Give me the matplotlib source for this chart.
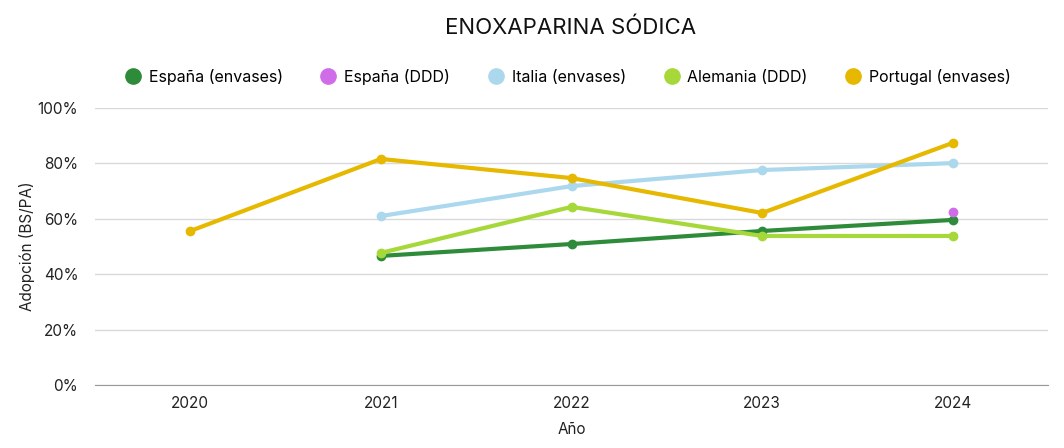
import numpy as np
import matplotlib
matplotlib.use("Agg")
import matplotlib.pyplot as plt
from matplotlib.ticker import FuncFormatter

plt.rcParams['font.family'] = ['Inter', 'DejaVu Sans']

years = ["2020", "2021", "2022", "2023", "2024"]

# adoption values in %, None where there is no data
espana_envases = [None, 46.6, 50.9, 55.6, 59.6]
espana_ddd = [None, None, None, None, 62.5]
italia_envases = [None, 61.0, 71.8, 77.6, 80.1]
alemania_ddd = [None, 47.7, 64.3, 53.8, 53.8]
portugal_envases = [55.6, 81.6, 74.7, 62.1, 87.4]

series = [
    ("España (envases)", espana_envases, "#2e8b3a"),
    ("España (DDD)", espana_ddd, "#d06ce8"),
    ("Italia (envases)", italia_envases, "#acd8ee"),
    ("Alemania (DDD)", alemania_ddd, "#a6d83a"),
    ("Portugal (envases)", portugal_envases, "#e6b800"),
]

fig = plt.figure(figsize=(10.64, 4.48), dpi=100)
ax = fig.add_axes([95 / 1064, 1 - 385 / 448, (1048 - 95) / 1064, (385 - 108) / 448])

x = np.arange(len(years))
handles = []
for name, vals, color in series:
    y = np.array([np.nan if v is None else v for v in vals], dtype=float)
    mask = ~np.isnan(y)
    ax.plot(x[mask], y[mask], color=color, linewidth=3, marker="o", markersize=6, zorder=3)
    h, = ax.plot([], [], color=color, marker="o", linestyle="none", markersize=11, label=name)
    handles.append(h)

ax.set_xlim(-0.5, len(years) - 0.5)
ax.set_ylim(0, 100)
ax.set_xticks(x)
ax.set_xticklabels(years)
ax.set_yticks(np.arange(0, 101, 20))
ax.yaxis.set_major_formatter(FuncFormatter(lambda v, p: f"{v:.0f}%"))
ax.grid(axis="y", color="#d9d9d9", linewidth=1)
ax.set_axisbelow(True)
for s in ["top", "right", "left"]:
    ax.spines[s].set_visible(False)
ax.spines["bottom"].set_color("#999999")
ax.tick_params(axis="both", length=0, labelsize=11, colors="#222222", pad=8)
ax.tick_params(axis="y", pad=12)

ax.set_xlabel("Año", fontsize=11, color="#222222", labelpad=8)
ax.set_ylabel("Adopción (BS/PA)", fontsize=11, color="#222222", labelpad=2)

fig.text(571 / 1064, 1 - 28 / 448, "ENOXAPARINA SÓDICA", ha="center", va="center", fontsize=16, color="#111111")
fig.legend(handles=handles, loc="center", bbox_to_anchor=(568 / 1064, 1 - 77 / 448), ncol=5,
           frameon=False, fontsize=11.5, handletextpad=0.5, columnspacing=2.35, handlelength=1.0)

fig.savefig("out.png", dpi=100)
